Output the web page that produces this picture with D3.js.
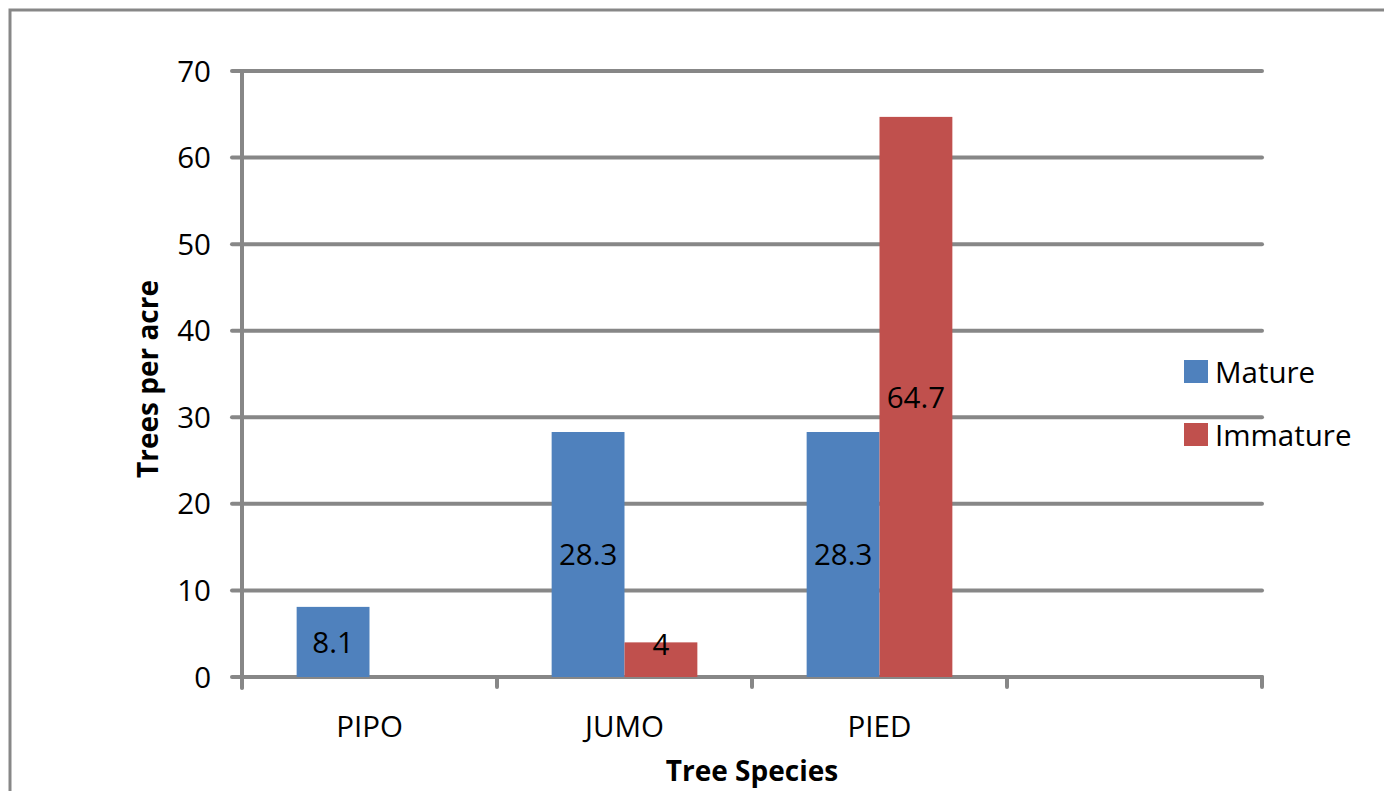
<!DOCTYPE html>
<html><head><meta charset="utf-8">
<script src="https://cdn.jsdelivr.net/npm/d3@7"></script>
<style>body{margin:0;background:#fff;} text{font-family:"Open Sans",sans-serif;}</style>
</head><body>
<svg id="c" width="1384" height="791"></svg>
<script>
const categories = ["PIPO", "JUMO", "PIED", ""];
const seriesNames = ["Mature", "Immature"];
const matureValues = [8.1, 28.3, 28.3, null];
const immatureValues = [null, 4, 64.7, null];
const yTicks = [0, 10, 20, 30, 40, 50, 60, 70];
const colors = ["#4F81BD", "#C0504D"];
const gray = "#878787";
const fs = 29.5;

const svg = d3.select("#c");
svg.append("rect").attr("x", 10).attr("y", 10).attr("width", 1420).attr("height", 820)
  .attr("fill", "none").attr("stroke", gray).attr("stroke-width", 3);

const L = 242, R = 1262, T = 71, B = 677;
const x = d3.scaleBand().domain(categories.map((c, i) => i)).range([L, R]).paddingInner(0).paddingOuter(0);
const y = d3.scaleLinear().domain([0, 70]).range([B, T]);
const bw = x.bandwidth();
const barW = bw / 3.5;
const xs = d3.scaleBand().domain([0, 1]).range([bw / 2 - barW, bw / 2 + barW]);

// gridlines
svg.append("g").selectAll("line").data(yTicks).join("line")
  .attr("x1", L - 10).attr("x2", R).attr("y1", d => y(d)).attr("y2", d => y(d))
  .attr("stroke", gray).attr("stroke-width", 4).attr("stroke-linecap", "round");
// y axis
svg.append("line").attr("x1", L).attr("x2", L).attr("y1", T).attr("y2", B + 11)
  .attr("stroke", gray).attr("stroke-width", 4).attr("stroke-linecap", "round");
// x ticks
const xt = d3.range(categories.length + 1).map(i => L + i * bw);
svg.append("g").selectAll("line").data(xt).join("line")
  .attr("x1", d => d).attr("x2", d => d).attr("y1", B).attr("y2", B + 10)
  .attr("stroke", gray).attr("stroke-width", 4).attr("stroke-linecap", "round");

// y tick labels
svg.append("g").selectAll("text").data(yTicks).join("text")
  .attr("x", 211).attr("y", d => y(d)).attr("dy", "0.36em").attr("text-anchor", "end")
  .attr("font-size", fs).attr("fill", "#000").text(d => d);

// bars
const series = [matureValues, immatureValues];
series.forEach((vals, s) => {
  const g = svg.append("g");
  const data = vals.map((v, i) => ({v, i})).filter(d => d.v != null);
  g.selectAll("rect").data(data).join("rect")
    .attr("x", d => x(d.i) + xs(s)).attr("width", xs.bandwidth())
    .attr("y", d => y(d.v)).attr("height", d => y(0) - y(d.v))
    .attr("fill", colors[s]);
  g.selectAll("text").data(data).join("text")
    .attr("x", d => x(d.i) + xs(s) + xs.bandwidth() / 2)
    .attr("y", d => Math.min((y(d.v) + y(0)) / 2, y(0) - 33))
    .attr("dy", "0.36em").attr("text-anchor", "middle")
    .attr("font-size", fs).attr("fill", "#000").text(d => d.v);
});

// category labels
svg.append("g").selectAll("text").data(categories).join("text")
  .attr("x", (d, i) => x(i) + bw / 2).attr("y", 726).attr("dy", "0.36em")
  .attr("text-anchor", "middle").attr("font-size", fs).attr("fill", "#000").text(d => d);

// axis titles
svg.append("text").attr("x", (L + R) / 2).attr("y", 771).attr("dy", "0.36em")
  .attr("text-anchor", "middle").attr("font-size", 28).attr("font-weight", "bold").text("Tree Species");
svg.append("text").attr("transform", `translate(148,${(T + B) / 2 + 5}) rotate(-90)`).attr("dy", "0.36em")
  .attr("text-anchor", "middle").attr("font-size", 28).attr("font-weight", "bold").text("Trees per acre");

// legend
const lg = svg.append("g").selectAll("g").data(seriesNames).join("g")
  .attr("transform", (d, i) => `translate(1184,${360 + i * 63})`);
lg.append("rect").attr("width", 24).attr("height", 23).attr("fill", (d, i) => colors[i]);
lg.append("text").attr("x", 31).attr("y", 12).attr("dy", "0.36em")
  .attr("font-size", fs).attr("fill", "#000").text(d => d);
</script>
</body></html>
